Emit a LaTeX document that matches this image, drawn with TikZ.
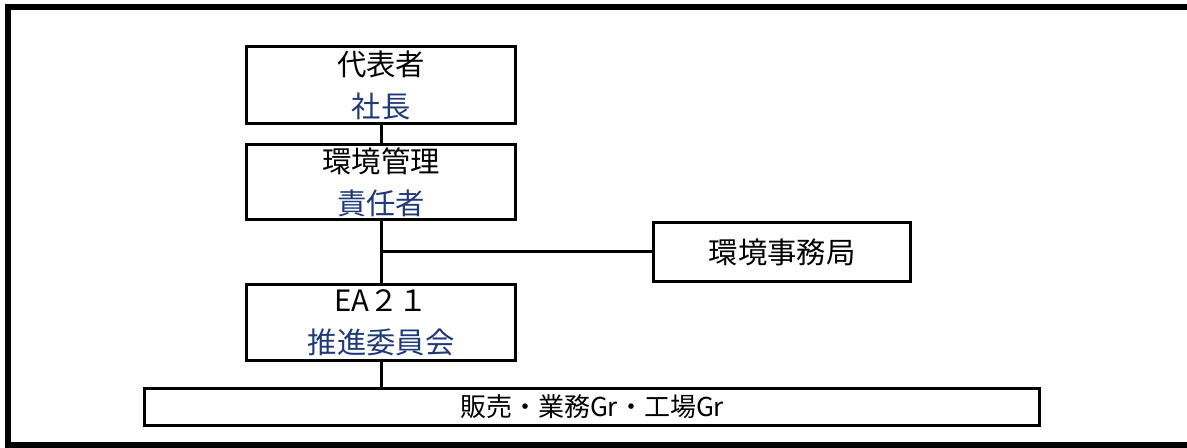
\documentclass[tikz,border=0pt]{standalone}
\usepackage{fontspec}
\setmainfont{Noto Sans CJK JP}
\definecolor{navy}{HTML}{1F3A78}
\begin{document}
\begin{tikzpicture}[x=0.75pt,y=-0.75pt,
  box/.style={draw=black,line width=2.25pt,inner sep=0pt,align=center,
    font=\fontsize{22}{31.5}\selectfont},
  conn/.style={draw=black,line width=2.25pt}]
\useasboundingbox (0,0) rectangle (1187,448);
\draw[line width=4.5pt] (8,7) rectangle (1200,445);
\node[box,minimum width=201.75pt,minimum height=57.75pt] (b1) at (381,85)
  {代表者\\\textcolor{navy}{社長}};
\node[box,minimum width=201.75pt,minimum height=56.25pt] (b2) at (381,182)
  {環境管理\\\textcolor{navy}{責任者}};
\node[box,minimum width=192.75pt,minimum height=44.25pt] (b3) at (782,252)
  {環境事務局};
\node[box,minimum width=201.75pt,minimum height=57pt] (b4) at (381,322.5)
  {EA２１\\\textcolor{navy}{推進委員会}};
\node[box,minimum width=671.25pt,minimum height=27.75pt,font=\fontsize{19.5}{22}\selectfont] (b5) at (592,407)
  {販売・業務Gr・工場Gr};
\coordinate (j) at (b2.south |- b3.west);
\coordinate (k) at (b4.south |- b5.north);
\draw[conn] (b1.south) -- (b2.north);
\draw[conn] (b2.south) -- (b4.north);
\draw[conn] (b4.south) -- (k);
\draw[conn] (j) -- (b3.west);
\end{tikzpicture}
\end{document}
